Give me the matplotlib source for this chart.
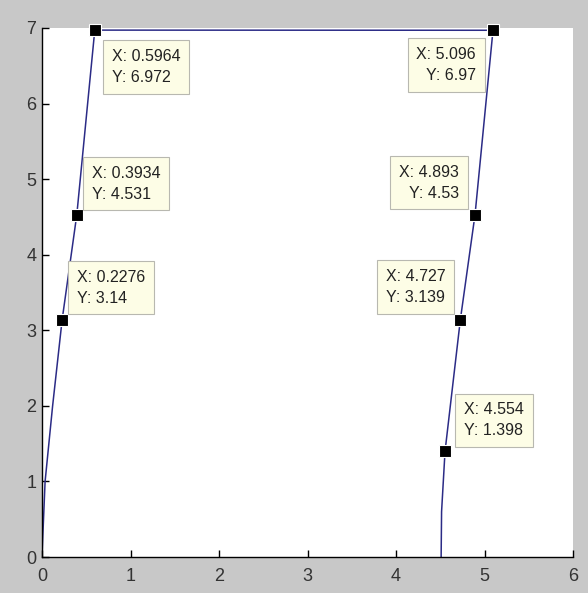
import matplotlib
matplotlib.use("Agg")
import matplotlib.pyplot as plt

# traced path: up the left edge, across the top, down the right edge
path_x = [0.0, 0.01, 0.035, 0.12, 0.2276, 0.3934, 0.5964,
          5.096, 4.893, 4.727, 4.554, 4.515, 4.51]
path_y = [0.0, 0.3, 1.0, 2.0, 3.14, 4.531, 6.972,
          6.97, 4.53, 3.139, 1.398, 0.6, 0.0]

# data tips
tip_x = [0.5964, 0.3934, 0.2276, 5.096, 4.893, 4.727, 4.554]
tip_y = [6.972, 4.531, 3.14, 6.97, 4.53, 3.139, 1.398]
tip_text = [
    "X: 0.5964\nY: 6.972",
    "X: 0.3934\nY: 4.531",
    "X: 0.2276\nY: 3.14",
    "X: 5.096\nY: 6.97",
    "X: 4.893\nY: 4.53",
    "X: 4.727\nY: 3.139",
    "X: 4.554\nY: 1.398",
]
# offset (px), ha, va, multialignment
tip_place = [
    ((17, -19), "left", "top", "left"),
    ((15, 13), "left", "bottom", "left"),
    ((15, 14), "left", "bottom", "left"),
    ((-17, -17), "right", "top", "right"),
    ((-16, 14), "right", "bottom", "right"),
    ((-15, 15), "right", "bottom", "left"),
    ((19, 13), "left", "bottom", "left"),
]

plt.rcParams["font.family"] = ["Liberation Sans", "DejaVu Sans"]

fig = plt.figure(figsize=(5.88, 5.93), dpi=100, facecolor="#c8c8c8")
ax = fig.add_axes([42 / 588, 36 / 593, 531 / 588, 529 / 593])
ax.set_facecolor("white")

ax.plot(path_x, path_y, color="#2b2b86", linewidth=1.1)
ax.plot(tip_x, tip_y, linestyle="none", marker="s", markersize=9,
        markerfacecolor="black", markeredgecolor="white",
        markeredgewidth=0.8, clip_on=False, zorder=5)

for x, y, txt, (off, ha, va, ma) in zip(tip_x, tip_y, tip_text, tip_place):
    ax.annotate(txt, xy=(x, y), xytext=off, textcoords="offset pixels",
                ha=ha, va=va, multialignment=ma, fontsize=11.5,
                color="#222222", linespacing=1.5,
                bbox=dict(boxstyle="square,pad=0.55", facecolor="#fdfde6",
                          edgecolor="#b8b8b0", linewidth=0.8),
                annotation_clip=False, zorder=6)

ax.set_xlim(0, 6)
ax.set_ylim(0, 7)
ax.set_xticks(range(0, 7))
ax.set_yticks(range(0, 8))
ax.spines["top"].set_visible(False)
ax.spines["right"].set_visible(False)
for side in ("left", "bottom"):
    ax.spines[side].set_linewidth(1.0)
    ax.spines[side].set_color("black")
ax.tick_params(direction="in", length=5, width=1.0, labelsize=13,
               labelcolor="#333333")
ax.tick_params(axis="x", pad=8)
ax.tick_params(axis="y", pad=4)

fig.savefig("out.png", dpi=100, facecolor=fig.get_facecolor())
